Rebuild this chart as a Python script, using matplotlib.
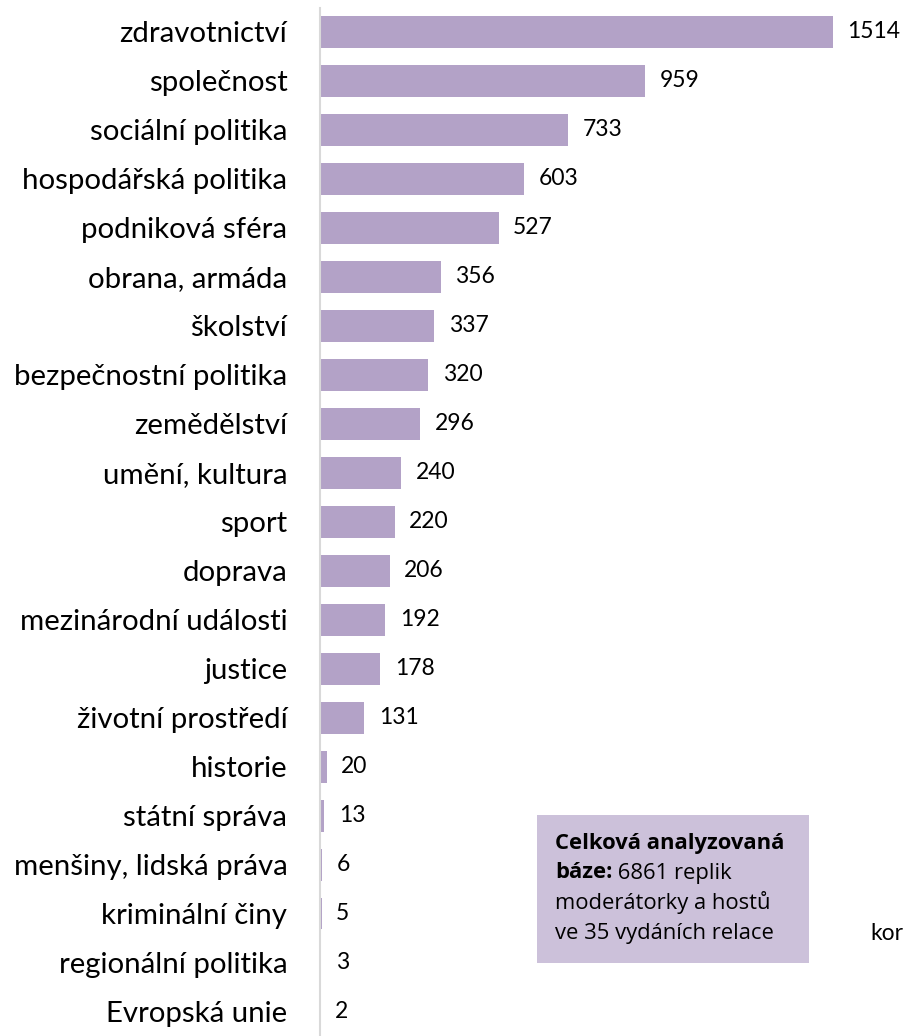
import matplotlib.pyplot as plt
from matplotlib.patches import Rectangle

# Topics and counts of replies
categories = ['zdravotnictví', 'společnost', 'sociální politika', 'hospodářská politika',
              'podniková sféra', 'obrana, armáda', 'školství', 'bezpečnostní politika',
              'zemědělství', 'umění, kultura', 'sport', 'doprava', 'mezinárodní události',
              'justice', 'životní prostředí', 'historie', 'státní správa',
              'menšiny, lidská práva', 'kriminální činy', 'regionální politika', 'Evropská unie']
counts = [1514, 959, 733, 603, 527, 356, 337, 320, 296, 240, 220, 206, 192,
          178, 131, 20, 13, 6, 5, 3, 2]

box_bold1 = 'Celková analyzovaná'
box_bold2 = 'báze:'
box_rest2 = ' 6861 replik'
box_lines = ['moderátorky a hostů', 've 35 vydáních relace']
side_text = 'kor'

bar_color = '#b3a2c7'
box_color = '#ccc1da'

W, H = 906, 1036
fig = plt.figure(figsize=(W / 100, H / 100), dpi=100)

# axes: left edge at the vertical line (x=320 px), reaching the right edge
ax = fig.add_axes([320 / W, 0, 1 - 320 / W, 1 - 7.5 / H])
ax.set_facecolor('none')

y = list(range(len(categories)))
ax.barh(y, counts, height=0.65, color=bar_color)
ax.set_ylim(len(categories) - 0.5, -0.5)
ax.set_xlim(0, 1730)

ax.set_yticks(y)
ax.set_yticklabels(categories, fontsize=21.2, family='Lato')
ax.tick_params(axis='y', length=0, pad=23.5)
ax.set_xticks([])

for s in ['top', 'right', 'bottom']:
    ax.spines[s].set_visible(False)
ax.spines['left'].set_color('#d9d9d9')
ax.spines['left'].set_linewidth(1.5)

for yi, v in zip(y, counts):
    ax.annotate(str(v), (v, yi), xytext=(10.5, 0), textcoords='offset points',
                va='center', ha='left', fontsize=16.5, family='Lato')

# info box
def px(x, yy):
    return x / W, 1 - yy / H

x0, y0 = px(537, 963)
x1, y1 = px(809, 815)
fig.add_artist(Rectangle((x0, y0), x1 - x0, y1 - y0, transform=fig.transFigure,
                         facecolor=box_color, edgecolor='none', zorder=1.5))

fs_box = 15.8
tx, ty = px(555, 843)
fig.text(tx, ty, box_bold1, fontsize=fs_box, fontweight='bold', family='Open Sans',
         va='center', ha='left')
tx, ty = px(555, 873)
t2 = fig.text(tx, ty, box_bold2, fontsize=fs_box, fontweight='bold', family='Open Sans',
              va='center', ha='left')
fig.add_artist(plt.Annotation(box_rest2, xy=(1, 0.5), xycoords=t2, va='center', ha='left',
                              fontsize=fs_box, family='Open Sans', zorder=3))
for i, line in enumerate(box_lines):
    tx, ty = px(555, 903 + 30 * i)
    fig.text(tx, ty, line, fontsize=fs_box, family='Open Sans', va='center', ha='left')

tx, ty = px(870, 933)
fig.text(tx, ty, side_text, fontsize=16.5, family='Lato', va='center', ha='left')

fig.savefig('out.png', dpi=100)
